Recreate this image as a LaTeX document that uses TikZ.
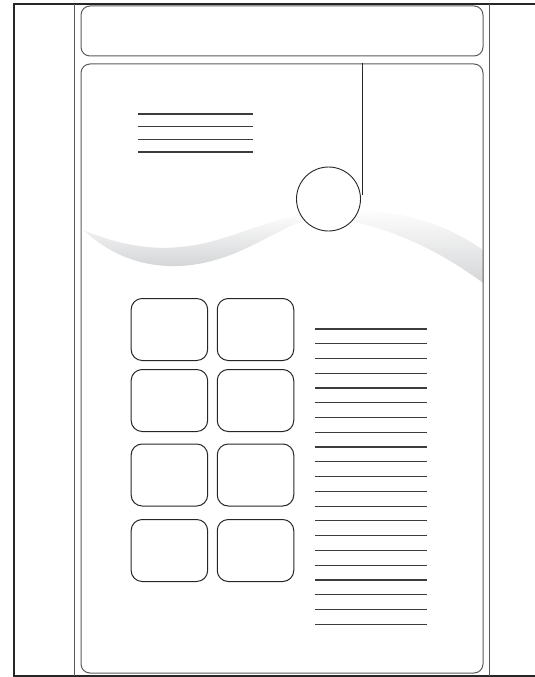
\documentclass[tikz,border=0pt]{standalone}
\usepackage{tikz}
\usetikzlibrary{positioning}
\definecolor{FrameLine}{HTML}{262626}
\definecolor{GuideLine}{HTML}{5A5A5A}
\definecolor{RuleLine}{HTML}{3C3C3C}
\definecolor{SwooshGray}{HTML}{D3D4D6}

\begin{document}
\begin{tikzpicture}[x=1pt,y=-1pt,node distance=8.6pt]
    \tikzset{panel/.style={draw=GuideLine,line width=1pt,rounded corners=9pt,inner sep=0pt},
      tile/.style={draw=FrameLine,line width=1pt,rounded corners=11pt,
      minimum width=76.5pt,minimum height=62pt,inner sep=0pt},
      textrule/.style={draw=RuleLine,line width=1.2pt}}
    \useasboundingbox (0,0) rectangle (535,677);
    % page frame and guides
    \draw[FrameLine,line width=1.5pt] (540,4) -- (14,4) -- (14,676) -- (540,676);
    \draw[FrameLine,line width=2pt] (14,4) -- (14,676);
    \draw[GuideLine,line width=1pt] (74,4) -- (74,676);
    \draw[GuideLine,line width=1pt] (489,4) -- (489,676);
    % swoosh behind the body
    \begin{scope}
      \clip (81,64) rectangle (483,673);
      \shade[top color=white,bottom color=SwooshGray] (83,230)
        .. controls (120,245) and (150,250) .. (180,247)
        .. controls (230,243) and (265,216) .. (330,211) -- (330,217)
        .. controls (285,215) and (250,262) .. (180,266)
        .. controls (130,268) and (100,245) .. (83,230) -- cycle;
      \shade[top color=white,bottom color=SwooshGray] (330,211)
        .. controls (400,206) and (450,225) .. (490,255) -- (490,288)
        .. controls (450,258) and (400,228) .. (330,217) -- cycle;
    \end{scope}
    \node[panel,minimum width=402pt,minimum height=50pt] (header) at (282,31) {};
    \node[panel,minimum width=402pt,minimum height=609pt] (body) at (282,368.5) {};
    \node[draw=FrameLine,circle,fill=white,line width=0.9pt,minimum size=64pt,inner sep=0pt] (seal) at (328.5,199) {};
    \coordinate (hook) at (362,195);
    \draw[FrameLine,line width=0.9pt] (hook |- body.north) -- (hook);
    % heading rules
    \foreach \y in {114,126.7,139.3,152}
      \draw[textrule] (138,\y) -- (253,\y);
    % tiles
    \node[tile] (tileA1) at (169.4,329.5) {};
    \node[tile,right=of tileA1] (tileB1) {};
    \node[tile,below=8pt of tileA1] (tileA2) {};
    \node[tile,right=of tileA2] (tileB2) {};
    \node[tile,below=11.5pt of tileA2] (tileA3) {};
    \node[tile,right=of tileA3] (tileB3) {};
    \node[tile,below=12.5pt of tileA3] (tileA4) {};
    \node[tile,right=of tileA4] (tileB4) {};
    % body rules
    \foreach \i in {0,...,20}
      \draw[textrule] (315,329+14.76*\i) -- (427,329+14.76*\i);
\end{tikzpicture}
\end{document}
